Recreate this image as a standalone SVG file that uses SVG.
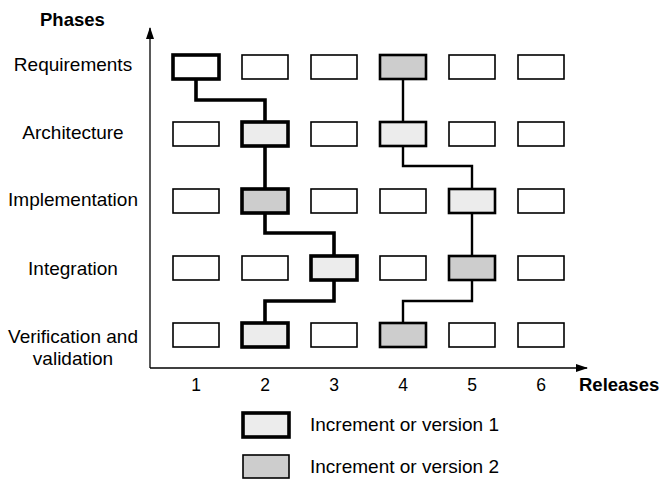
<svg xmlns="http://www.w3.org/2000/svg" width="662" height="480" viewBox="0 0 662 480">
<defs>
<style>
text{font-family:"Liberation Sans",Arial,sans-serif;fill:#000}
.lbl{font-size:19px;text-anchor:middle}
.num{font-size:17.5px;text-anchor:middle}
.bold{font-size:18.5px;font-weight:bold}
.leg{font-size:19px}
.box{fill:#fff;stroke:#000;stroke-width:1.6}
.v1{stroke:#000;stroke-width:3.6}
.v2{stroke:#000;stroke-width:2.6}
.lt{fill:#ececec}
.gy{fill:#cdcdcd}
.wh{fill:#fff}
.axis{stroke:#000;stroke-width:1.3;fill:none}
.c1{fill:none;stroke:#000;stroke-width:3.6;stroke-linejoin:miter}
.c2{fill:none;stroke:#000;stroke-width:2.4;stroke-linejoin:miter}
</style>
<marker id="arr" viewBox="0 0 12 8" refX="11" refY="4" markerWidth="12" markerHeight="8" markerUnits="userSpaceOnUse" orient="auto">
<path d="M0,0 L12,4 L0,8 Z" fill="#000"/>
</marker>
</defs>
<rect width="662" height="480" fill="#fff"/>

<g id="axes">
<line class="axis" x1="150" y1="368" x2="150" y2="28" marker-end="url(#arr)"/>
<line class="axis" x1="150" y1="368" x2="587" y2="368" marker-end="url(#arr)"/>
<text class="bold" x="40" y="26">Phases</text>
<text class="bold" x="579" y="391">Releases</text>
</g>

<g id="phase-labels">
<text class="lbl" x="73" y="71">Requirements</text>
<text class="lbl" x="73" y="139">Architecture</text>
<text class="lbl" x="73" y="206">Implementation</text>
<text class="lbl" x="73" y="275">Integration</text>
<text class="lbl" x="73" y="343">Verification and</text>
<text class="lbl" x="73" y="365">validation</text>
</g>

<g id="release-labels">
<text class="num" x="196" y="391">1</text>
<text class="num" x="265" y="391">2</text>
<text class="num" x="334" y="391">3</text>
<text class="num" x="403" y="391">4</text>
<text class="num" x="472" y="391">5</text>
<text class="num" x="541" y="391">6</text>
</g>

<g id="connectors">
<path class="c1" d="M196,79 V100 H265 V122"/>
<path class="c1" d="M265,146 V189"/>
<path class="c1" d="M265,213 V233 H334 V256"/>
<path class="c1" d="M334,280 V301 H265 V323"/>
<path class="c2" d="M403,79 V122"/>
<path class="c2" d="M403,146 V166 H472 V189"/>
<path class="c2" d="M472,213 V256"/>
<path class="c2" d="M472,280 V301 H403 V323"/>
</g>

<g id="row-requirements">
<g id="req-1"><rect class="box v1 wh" x="173" y="55" width="46" height="24"/></g>
<g id="req-2"><rect class="box" x="242" y="55" width="46" height="24"/></g>
<g id="req-3"><rect class="box" x="311" y="55" width="46" height="24"/></g>
<g id="req-4"><rect class="box v2 gy" x="380" y="55" width="46" height="24"/></g>
<g id="req-5"><rect class="box" x="449" y="55" width="46" height="24"/></g>
<g id="req-6"><rect class="box" x="518" y="55" width="46" height="24"/></g>
</g>
<g id="row-architecture">
<g id="arc-1"><rect class="box" x="173" y="122" width="46" height="24"/></g>
<g id="arc-2"><rect class="box v1 lt" x="242" y="122" width="46" height="24"/></g>
<g id="arc-3"><rect class="box" x="311" y="122" width="46" height="24"/></g>
<g id="arc-4"><rect class="box v2 lt" x="380" y="122" width="46" height="24"/></g>
<g id="arc-5"><rect class="box" x="449" y="122" width="46" height="24"/></g>
<g id="arc-6"><rect class="box" x="518" y="122" width="46" height="24"/></g>
</g>
<g id="row-implementation">
<g id="imp-1"><rect class="box" x="173" y="189" width="46" height="24"/></g>
<g id="imp-2"><rect class="box v1 gy" x="242" y="189" width="46" height="24"/></g>
<g id="imp-3"><rect class="box" x="311" y="189" width="46" height="24"/></g>
<g id="imp-4"><rect class="box" x="380" y="189" width="46" height="24"/></g>
<g id="imp-5"><rect class="box v2 lt" x="449" y="189" width="46" height="24"/></g>
<g id="imp-6"><rect class="box" x="518" y="189" width="46" height="24"/></g>
</g>
<g id="row-integration">
<g id="int-1"><rect class="box" x="173" y="256" width="46" height="24"/></g>
<g id="int-2"><rect class="box" x="242" y="256" width="46" height="24"/></g>
<g id="int-3"><rect class="box v1 lt" x="311" y="256" width="46" height="24"/></g>
<g id="int-4"><rect class="box" x="380" y="256" width="46" height="24"/></g>
<g id="int-5"><rect class="box v2 gy" x="449" y="256" width="46" height="24"/></g>
<g id="int-6"><rect class="box" x="518" y="256" width="46" height="24"/></g>
</g>
<g id="row-verification">
<g id="ver-1"><rect class="box" x="173" y="323" width="46" height="24"/></g>
<g id="ver-2"><rect class="box v1 lt" x="242" y="323" width="46" height="24"/></g>
<g id="ver-3"><rect class="box" x="311" y="323" width="46" height="24"/></g>
<g id="ver-4"><rect class="box v2 gy" x="380" y="323" width="46" height="24"/></g>
<g id="ver-5"><rect class="box" x="449" y="323" width="46" height="24"/></g>
<g id="ver-6"><rect class="box" x="518" y="323" width="46" height="24"/></g>
</g>

<g id="legend-1">
<rect class="box v1 lt" x="243" y="413" width="46" height="24"/>
<text class="leg" x="310" y="431">Increment or version 1</text>
</g>
<g id="legend-2">
<rect class="box gy" x="243" y="455" width="46" height="23"/>
<text class="leg" x="310" y="473">Increment or version 2</text>
</g>
</svg>
